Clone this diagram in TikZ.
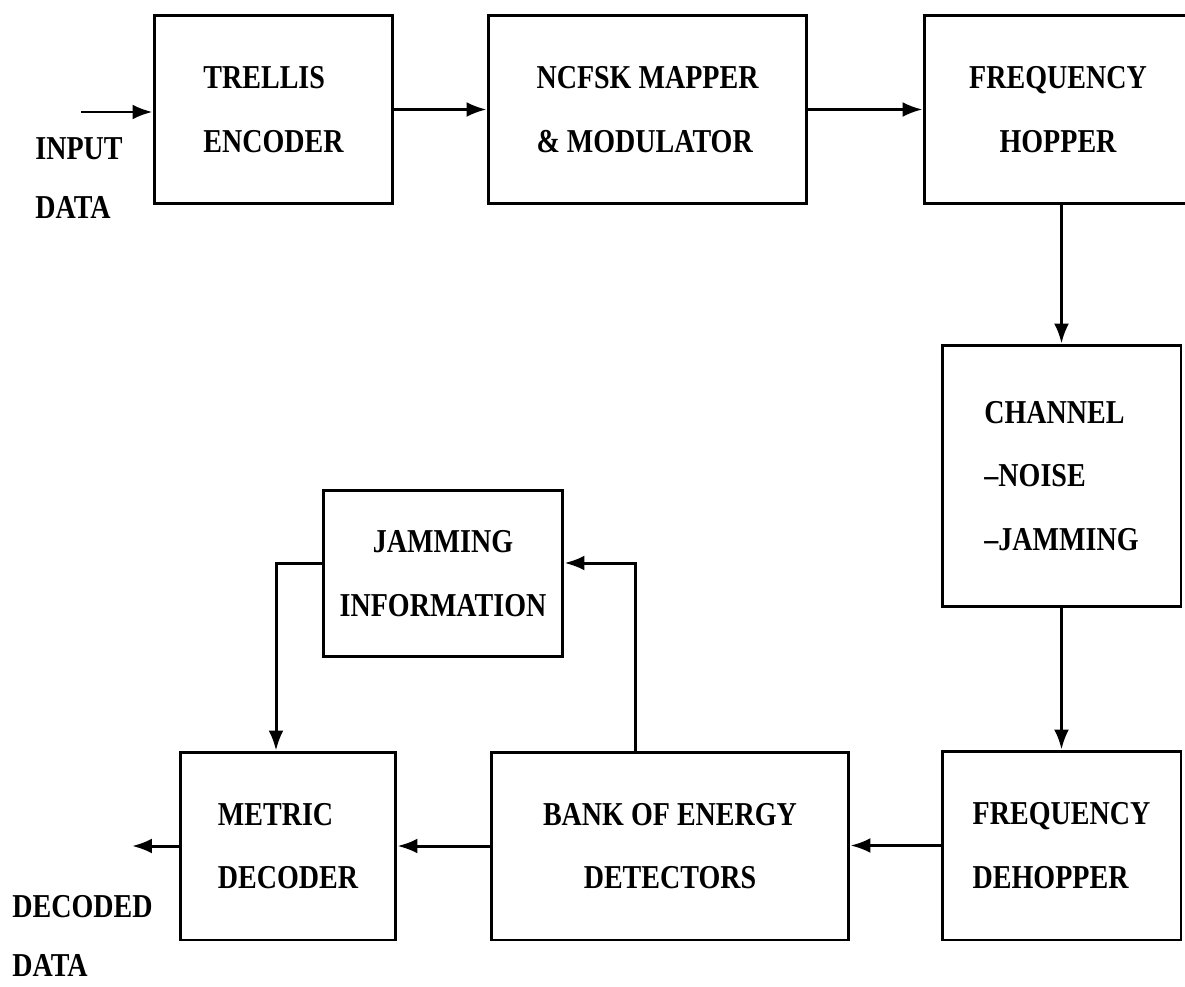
\documentclass[tikz,border=0pt]{standalone}
\usepackage{fontspec}
\setmainfont[FakeStretch=0.84]{Liberation Serif}
\usetikzlibrary{arrows.meta}

\tikzset{
  blk/.style={draw, line width=1.7pt, align=left,
    font=\bfseries\fontsize{19}{36}\selectfont},
  lbl/.style={align=left, inner sep=0pt, anchor=west,
    font=\bfseries\fontsize{19}{34}\selectfont},
  arr/.style={line width=1.7pt, -{Latex[length=4mm,width=3mm]}}
}

\begin{document}
\begin{tikzpicture}[x=0.02cm, y=-0.02cm]
  \useasboundingbox (0,0) rectangle (1185,986);

  % transmitter
  \node[blk, minimum width=4.78cm, minimum height=3.78cm] (trellis) at (273.5,109.5) {TRELLIS\\ENCODER};
  \node[blk, minimum width=6.38cm, minimum height=3.78cm] (ncfsk) at (647.5,109.5) {NCFSK MAPPER\\\& MODULATOR};
  \node[blk, align=center, minimum width=5.36cm, minimum height=3.78cm] (hopper) at (1058,109.5) {FREQUENCY\\HOPPER};

  % channel
  \node[blk, minimum width=4.78cm, minimum height=5.24cm] (channel) at (1061.5,476) {CHANNEL\\--NOISE\\--JAMMING};

  % receiver
  \node[blk, minimum width=4.78cm, minimum height=3.78cm] (dehopper) at (1061.5,845.5) {FREQUENCY\\DEHOPPER};
  \node[blk, align=center, minimum width=7.16cm, minimum height=3.76cm] (bank) at (670,846) {BANK OF ENERGY\\DETECTORS};
  \node[blk, minimum width=4.32cm, minimum height=3.76cm] (metric) at (288,846) {METRIC\\DECODER};
  \node[blk, align=center, minimum width=4.8cm, minimum height=3.34cm] (jam) at (443,573.5) {JAMMING\\INFORMATION};

  % in / out
  \node[lbl] (indata) at (35,178) {INPUT\\DATA};
  \node[lbl] (outdata) at (12,936) {DECODED\\DATA};
  \coordinate (inp) at (81,112);
  \coordinate (outp) at (132,846);

  \draw[arr] (inp) -- (inp -| trellis.west);
  \draw[arr] (trellis.east) -- (ncfsk.west);
  \draw[arr] (ncfsk.east) -- (hopper.west);
  \draw[arr] (channel.north |- hopper.south) -- (channel.north);
  \draw[arr] (channel.south) -- (dehopper.north);
  \draw[arr] (dehopper.west) -- (dehopper.west -| bank.east);
  \draw[arr] (bank.west) -- (metric.east);
  \draw[arr] (metric.west) -- (outp);

  % jamming side path
  \draw[arr] ([xshift=-0.7cm]bank.north) |- ([yshift=0.21cm]jam.east);
  \draw[arr] ([yshift=0.21cm]jam.west) -| ([xshift=-0.24cm]metric.north);
\end{tikzpicture}
\end{document}
